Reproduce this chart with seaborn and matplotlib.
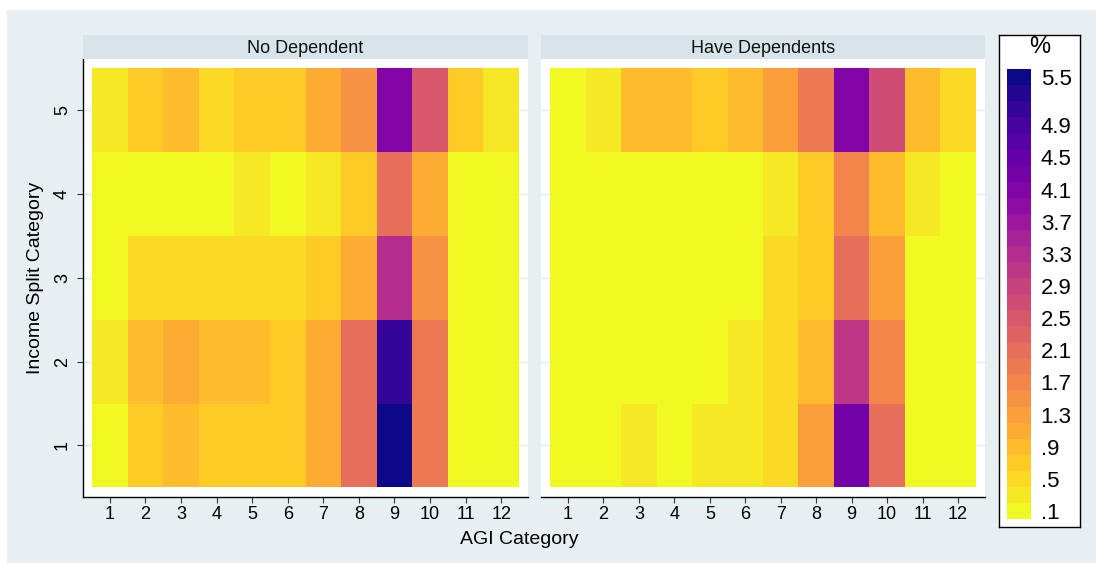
import numpy as np
import pandas as pd
import matplotlib
matplotlib.use("Agg")
import matplotlib.pyplot as plt
from matplotlib.colors import ListedColormap
from matplotlib.patches import Rectangle
import seaborn as sns

# ---------------- data ----------------
agi_categories = list(range(1, 13))
split_categories = [1, 2, 3, 4, 5]
panel_titles = ["No Dependent", "Have Dependents"]

# values (%) per income split category (1..5), AGI category 1..12
no_dep_1 = [0.1, 0.7, 0.9, 0.7, 0.7, 0.7, 1.1, 2.1, 5.5, 1.9, 0.1, 0.1]
no_dep_2 = [0.3, 0.9, 1.1, 0.9, 0.9, 0.7, 1.1, 2.1, 5.1, 1.9, 0.1, 0.1]
no_dep_3 = [0.1, 0.5, 0.5, 0.5, 0.5, 0.5, 0.7, 1.1, 3.3, 1.5, 0.1, 0.1]
no_dep_4 = [0.1, 0.1, 0.1, 0.1, 0.3, 0.1, 0.3, 0.7, 2.1, 1.1, 0.1, 0.1]
no_dep_5 = [0.3, 0.7, 0.9, 0.5, 0.7, 0.7, 1.1, 1.5, 4.1, 2.5, 0.7, 0.3]

have_dep_1 = [0.1, 0.1, 0.3, 0.1, 0.3, 0.3, 0.5, 1.3, 4.3, 2.1, 0.1, 0.1]
have_dep_2 = [0.1, 0.1, 0.1, 0.1, 0.1, 0.3, 0.5, 0.9, 3.1, 1.7, 0.1, 0.1]
have_dep_3 = [0.1, 0.1, 0.1, 0.1, 0.1, 0.1, 0.5, 0.7, 2.1, 1.3, 0.1, 0.1]
have_dep_4 = [0.1, 0.1, 0.1, 0.1, 0.1, 0.1, 0.3, 0.7, 1.7, 0.9, 0.3, 0.1]
have_dep_5 = [0.1, 0.3, 0.9, 0.9, 0.7, 0.9, 1.3, 1.9, 4.1, 2.7, 0.9, 0.5]

legend_ticks = [0.1, 0.5, 0.9, 1.3, 1.7, 2.1, 2.5, 2.9, 3.3, 3.7, 4.1, 4.5, 4.9, 5.5]
legend_labels = [".1", ".5", ".9", "1.3", "1.7", "2.1", "2.5", "2.9", "3.3",
                 "3.7", "4.1", "4.5", "4.9", "5.5"]
legend_title = "%"
x_title = "AGI Category"
y_title = "Income Split Category"

# ---------------- style ----------------
plt.rcParams["font.family"] = ["Liberation Sans", "DejaVu Sans"]
W, H = 1096, 563
fig = plt.figure(figsize=(W / 100, H / 100), dpi=100)
fig.patch.set_facecolor("white")

BG = "#e8eff2"
STRIP = "#d8e4ea"
GRID = "#e4ecef"

def box(x0, y0, x1, y1):
    return [x0 / W, 1 - y1 / H, (x1 - x0) / W, (y1 - y0) / H]

fig.patches.append(Rectangle((7 / W, 0), 1 - 7 / W, 1 - 9.6 / H,
                             transform=fig.transFigure, facecolor=BG,
                             edgecolor="none", zorder=-10))

nbins = 28
vmin, vmax = 0.0, 5.6
plasma = plt.get_cmap("plasma")
cmap = ListedColormap([plasma(1 - k / (nbins - 1)) for k in range(nbins)])

def frame(rows):
    # rows ordered split 1..5 -> display 5 at top
    return pd.DataFrame(rows[::-1], index=split_categories[::-1], columns=agi_categories)

panels = [
    frame([no_dep_1, no_dep_2, no_dep_3, no_dep_4, no_dep_5]),
    frame([have_dep_1, have_dep_2, have_dep_3, have_dep_4, have_dep_5]),
]
ax_boxes = [(82.7, 59, 528.3, 496.7), (541, 59, 985, 496.7)]
strip_boxes = [(82.7, 35, 528.3, 59), (541, 35, 985, 59)]

mesh = None
for i, (df, b, sb, title) in enumerate(zip(panels, ax_boxes, strip_boxes, panel_titles)):
    ax = fig.add_axes(box(*b))
    ax.set_facecolor("white")
    sns.heatmap(df, ax=ax, cmap=cmap, vmin=vmin, vmax=vmax, cbar=False,
                linewidths=0, rasterized=False)
    mesh = ax.collections[0]
    nrow, ncol = df.shape
    padx = 9.3 / ((b[2] - b[0] - 18.6) / ncol)
    pady = 9.3 / ((b[3] - b[1] - 18.6) / nrow)
    ax.set_xlim(-padx, ncol + padx)
    ax.set_ylim(nrow + pady, -pady)
    ax.set_xticks(np.arange(ncol) + 0.5)
    ax.set_xticklabels([str(c) for c in df.columns], rotation=0, fontsize=13)
    ax.set_yticks(np.arange(nrow) + 0.5)
    ax.set_axisbelow(True)
    ax.yaxis.grid(True, color=GRID, lw=1.0, zorder=0)
    ax.xaxis.grid(False)
    ax.set_xlabel("")
    ax.set_ylabel("")
    for s in ["top", "right"]:
        ax.spines[s].set_visible(False)
    ax.spines["bottom"].set_visible(True)
    ax.spines["bottom"].set_color("black")
    ax.spines["bottom"].set_linewidth(1.0)
    ax.tick_params(axis="x", length=4, width=0.8, color="#333333", pad=3,
                   labelsize=13, direction="out")
    if i == 0:
        ax.spines["left"].set_visible(True)
        ax.spines["left"].set_color("black")
        ax.spines["left"].set_linewidth(1.0)
        ax.set_yticklabels([str(r) for r in df.index], rotation=90,
                           va="center", fontsize=13)
        ax.tick_params(axis="y", length=4.5, width=0.8, color="#333333",
                       pad=4, labelsize=13, direction="out")
    else:
        ax.spines["left"].set_visible(False)
        ax.set_yticklabels([])
        ax.tick_params(axis="y", length=0)
    for c in ax.collections:
        c.set_zorder(1)

    sax = fig.add_axes(box(*sb))
    sax.set_facecolor(STRIP)
    sax.set_xticks([]); sax.set_yticks([])
    for s in sax.spines.values():
        s.set_visible(False)
    sax.text(0.5, 0.45, title, ha="center", va="center", fontsize=13,
             transform=sax.transAxes, color="#111111")

# axis titles
fig.text(519 / W, 1 - 539 / H, x_title, ha="center", va="center", fontsize=14)
fig.text(36 / W, 1 - 277.5 / H, y_title, ha="center", va="center",
         rotation=90, fontsize=14)

# legend box
lbox = fig.add_axes(box(999.3, 35, 1080.3, 526.7))
lbox.set_facecolor("white")
lbox.set_xticks([]); lbox.set_yticks([])
for s in lbox.spines.values():
    s.set_color("black"); s.set_linewidth(1.0)
lbox.text(0.5, 1 - 11.7 / 491.7, legend_title, ha="center", va="center",
          fontsize=17, transform=lbox.transAxes)

cax = fig.add_axes(box(1006.7, 69, 1031, 519))
cb = fig.colorbar(mesh, cax=cax, orientation="vertical")
cb.outline.set_visible(False)
cb.set_ticks(legend_ticks)
cb.set_ticklabels(legend_labels)
cax.tick_params(length=0, pad=7, labelsize=16)

fig.savefig("out.png", dpi=100, facecolor=fig.get_facecolor())
